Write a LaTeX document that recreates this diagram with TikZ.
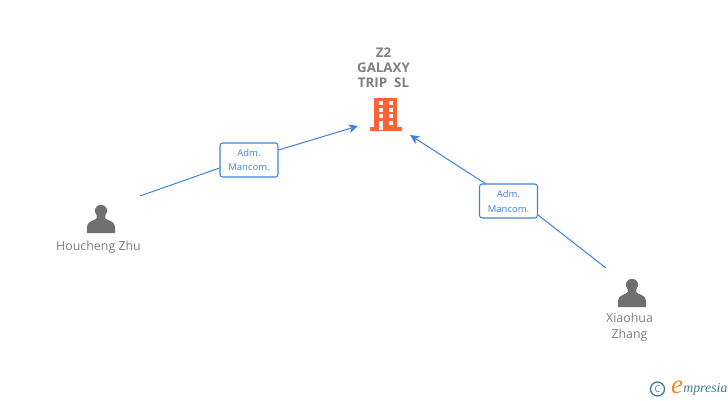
\documentclass[tikz,border=0pt]{standalone}
\usepackage{fontspec}
\setmainfont{Open Sans}
\newfontfamily\brand{Liberation Serif}
\usetikzlibrary{arrows.meta}
\definecolor{linkblue}{HTML}{3C82E0}
\definecolor{personGrey}{HTML}{6F6F6F}
\definecolor{txtGrey}{HTML}{7F7F7F}
\definecolor{bldOrange}{HTML}{FF6138}
\definecolor{teal2}{HTML}{3F7F95}
\definecolor{logoOr}{HTML}{F08A1E}
\tikzset{
 px/.style={x=0.75pt,y=-0.75pt},
 lbl/.style={font=\fontsize{9.3pt}{12pt}\selectfont,text=txtGrey,align=center,inner sep=0pt},
 title/.style={font=\bfseries\fontsize{10pt}{11.25pt}\selectfont,text=txtGrey,align=center,inner sep=0pt},
 role/.style={draw=linkblue,rounded corners=2pt,line width=0.8pt,fill=white,minimum width=43.5pt,minimum height=25.5pt,inner sep=0pt,
   font=\fontsize{7.1pt}{11.2pt}\selectfont,text=linkblue,align=center},
 link/.style={draw=linkblue,line width=0.75pt},
 linkarrow/.style={link,-{Stealth[length=7pt,width=6.5pt,inset=2pt]}},
}
\newcommand{\personicon}[2]{%
 \begin{scope}[shift={(#1,#2)}]
  \fill[personGrey] (-14,14) -- (-14,8) .. controls (-14,3) and (-9,2) .. (-5,0)
   .. controls (-4,-1) and (-4,-2) .. (-4.5,-4) .. controls (-7,-7) and (-7,-14) .. (0,-14)
   .. controls (7,-14) and (7,-7) .. (4.5,-4) .. controls (4,-2) and (4,-1) .. (5,0)
   .. controls (9,2) and (14,3) .. (14,8) -- (14,14) -- cycle;
 \end{scope}}
\begin{document}
\begin{tikzpicture}[px]
\useasboundingbox (0,0) rectangle (728,400);
% central company
\node[title] (company) at (383.5,68) {Z2\\GALAXY\\TRIP\ \ SL};
\fill[bldOrange] (374,97.5) rectangle (397,127);
\fill[bldOrange] (370,127) rectangle (401.5,131);
\foreach \y in {101,107.7,114.4}{
  \fill[white] (378.5,\y) rectangle (383,\y+3.8);
  \fill[white] (388.5,\y) rectangle (393,\y+3.8);
}
\fill[white] (378.5,121) rectangle (383,130);
\fill[white] (388.5,121) rectangle (393,125);
\coordinate (in1) at (358,126);
\coordinate (in2) at (410,135);
% persons
\personicon{101}{219}
\node[lbl] (p1) at (98.5,247.5) {Houcheng Zhu};
\personicon{632}{293}
\node[lbl] (p2) at (629.5,327.5) {Xiaohua\\Zhang};
\coordinate (from1) at (140,196);
\coordinate (from2) at (606,268);
% role boxes
\node[role] (r1) at (249,160) {Adm.\\Mancom.};
\node[role] (r2) at (508.5,201) {Adm.\\Mancom.};
% connectors
\draw[link] (from1) -- (r1.west |- 0,168);
\draw[linkarrow] (r1.east |- 0,150) -- (in1);
\draw[link] (from2) -- (r2.east |- 0,215);
\draw[linkarrow] (486,184) -- (in2);
% logo
\node[draw=teal2,circle,line width=1pt,minimum size=10.5pt,inner sep=0pt,font=\fontsize{7pt}{7pt}\selectfont,text=teal2] (copy) at (657.5,389) {C};
\node[font=\brand\itshape\fontsize{20pt}{20pt}\selectfont,text=logoOr,inner sep=0pt] (e) at (677,387.5) {e};
\node[font=\brand\itshape\fontsize{10.4pt}{11pt}\selectfont,text=teal2,inner sep=0pt,anchor=west] (brand) at (683,389) {mpresia};
\end{tikzpicture}
\end{document}
